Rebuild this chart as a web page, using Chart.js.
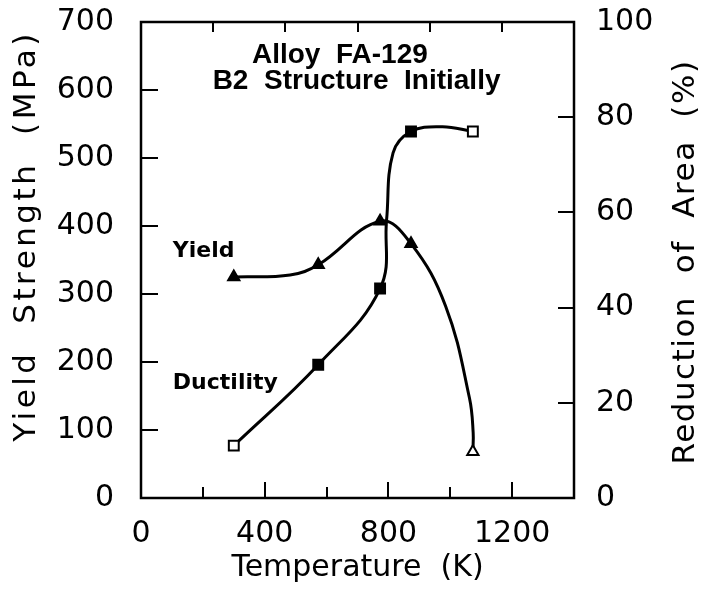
<!DOCTYPE html>
<html>
<head>
<meta charset="utf-8">
<script src="https://cdn.jsdelivr.net/npm/chart.js@4.4.1/dist/chart.umd.min.js"></script>
<style>
  html, body { margin: 0; padding: 0; background: #fff; }
  #wrap { width: 706px; height: 589px; }
</style>
</head>
<body>
<div id="wrap"><canvas id="c" width="706" height="589"></canvas></div>
<script>
// Measured points: test temperature, yield strength, reduction of area
const temperatureK = [300, 573, 773, 873, 1073];
const yieldMPa     = [325, 343, 407, 374, 68];
const reductionPct = [11, 28, 44, 77, 77];

// Hand-faired curves through the measured points
const yieldCurveK   = [300, 482, 573, 773, 873, 985, 1062, 1074, 1073];
const yieldCurveMPa = [325, 328, 343, 407, 374, 282, 147, 96, 68];
const ductCurveK    = [300, 573, 773, 794, 815, 873, 975, 1073];
const ductCurvePct  = [11, 28, 44, 58.4, 72.5, 77, 78, 77];

// Axis ticks
const xTickLabels  = [0, 400, 800, 1200];
const xTickMarks   = [200, 400, 600, 800, 1000, 1200];
const yTickLabels  = [0, 100, 200, 300, 400, 500, 600, 700];
const y2TickLabels = [0, 20, 40, 60, 80, 100];

const FONT = "'DejaVu Sans', sans-serif";
const pts = (xs, ys) => xs.map((x, i) => ({ x: x, y: ys[i] }));

const frameAndText = {
  id: 'frameAndText',
  afterDraw(chart) {
    const { ctx, chartArea: a, scales } = chart;
    const x = scales.x, y = scales.y, y2 = scales.y2;
    ctx.save();
    ctx.strokeStyle = '#000';
    ctx.lineWidth = 2.5;
    ctx.lineCap = 'butt';
    ctx.strokeRect(a.left, a.top, a.right - a.left, a.bottom - a.top);

    ctx.lineWidth = 2;
    ctx.beginPath();
    // bottom ticks point into the plot
    xTickMarks.forEach(v => {
      const px = Math.round(x.getPixelForValue(v));
      const len = v % 400 === 0 ? 16 : 11;
      ctx.moveTo(px, a.bottom); ctx.lineTo(px, a.bottom - len);
    });
    // top ticks divide the frame in six
    for (let i = 1; i < 6; i++) {
      const px = Math.round(a.left + (a.right - a.left) * i / 6);
      ctx.moveTo(px, a.top); ctx.lineTo(px, a.top + 10);
    }
    yTickLabels.slice(1, -1).forEach(v => {
      const py = Math.round(y.getPixelForValue(v));
      ctx.moveTo(a.left, py); ctx.lineTo(a.left + 17, py);
    });
    y2TickLabels.slice(1, -1).forEach(v => {
      const py = Math.round(y2.getPixelForValue(v));
      ctx.moveTo(a.right, py); ctx.lineTo(a.right - 16, py);
    });
    ctx.stroke();

    // vertical axis titles, both reading bottom to top
    ctx.fillStyle = '#000';
    ctx.textAlign = 'center';
    ctx.textBaseline = 'middle';
    ctx.font = '31px ' + FONT;
    ctx.letterSpacing = '3.5px';
    ctx.save();
    ctx.translate(27, 236);
    ctx.rotate(-Math.PI / 2);
    ctx.fillText('Yield  Strength  (MPa)', 0, 0);
    ctx.restore();
    ctx.letterSpacing = '1.5px';
    ctx.save();
    ctx.translate(686, 262);
    ctx.rotate(-Math.PI / 2);
    ctx.fillText('Reduction  of  Area  (%)', 0, 0);
    ctx.restore();
    ctx.letterSpacing = '0px';

    // annotations placed in data coordinates
    ctx.textBaseline = 'alphabetic';
    ctx.font = "bold 28px 'Liberation Sans', sans-serif";
    ctx.textAlign = 'center';
    ctx.fillText('Alloy  FA-129', x.getPixelForValue(643), y.getPixelForValue(640));
    ctx.fillText('B2  Structure  Initially', x.getPixelForValue(697), y.getPixelForValue(601));
    ctx.font = 'bold 22px ' + FONT;
    ctx.textAlign = 'left';
    ctx.fillText('Yield', x.getPixelForValue(103), y.getPixelForValue(354));
    ctx.fillText('Ductility', x.getPixelForValue(103), y.getPixelForValue(160));
    ctx.restore();
  }
};

const tickFont = { family: FONT, size: 30 };
const noEdgePadding = s => { s.paddingTop = 0; s.paddingBottom = 0; s.paddingLeft = 0; s.paddingRight = 0; };

new Chart(document.getElementById('c'), {
  type: 'scatter',
  data: {
    datasets: [
      {
        label: 'Yield strength',
        data: pts(temperatureK, yieldMPa),
        yAxisID: 'y',
        showLine: false,
        pointStyle: 'triangle',
        pointRadius: 6.5,
        pointBorderWidth: 2,
        pointBorderColor: '#000',
        pointBackgroundColor: ['#000', '#000', '#000', '#000', '#fff']
      },
      {
        label: 'Reduction of area',
        data: pts(temperatureK, reductionPct),
        yAxisID: 'y2',
        showLine: false,
        pointStyle: 'rect',
        pointRadius: 7,
        pointBorderWidth: 2,
        pointBorderColor: '#000',
        pointBackgroundColor: ['#fff', '#000', '#000', '#000', '#fff']
      },
      {
        label: 'Yield curve',
        data: pts(yieldCurveK, yieldCurveMPa),
        yAxisID: 'y',
        showLine: true,
        pointRadius: 0,
        borderColor: '#000',
        borderWidth: 3,
        tension: 0.4
      },
      {
        label: 'Ductility curve',
        data: pts(ductCurveK, ductCurvePct),
        yAxisID: 'y2',
        showLine: true,
        pointRadius: 0,
        borderColor: '#000',
        borderWidth: 3,
        tension: 0.4
      }
    ]
  },
  options: {
    responsive: false,
    animation: false,
    devicePixelRatio: 1,
    layout: { padding: { top: 22, left: 0, right: 0, bottom: 0 } },
    plugins: { legend: { display: false }, tooltip: { enabled: false } },
    scales: {
      x: {
        type: 'linear', min: 0, max: 1400,
        afterBuildTicks: s => { s.ticks = xTickLabels.map(v => ({ value: v })); },
        afterFit: s => { s.height = 91; noEdgePadding(s); },
        ticks: { font: tickFont, color: '#000', padding: 10, maxRotation: 0, autoSkip: false,
                 callback: v => String(v) },
        grid: { display: false },
        border: { display: false },
        title: { display: true, text: 'Temperature  (K)', color: '#000',
                 font: { family: FONT, size: 30 }, padding: { top: 0, bottom: 3 } }
      },
      y: {
        type: 'linear', position: 'left', min: 0, max: 700,
        afterBuildTicks: s => { s.ticks = yTickLabels.map(v => ({ value: v })); },
        afterFit: s => { s.width = 141; noEdgePadding(s); },
        ticks: { font: tickFont, color: '#000', padding: 19, autoSkip: false,
                 callback: v => String(v) },
        grid: { display: false },
        border: { display: false }
      },
      y2: {
        type: 'linear', position: 'right', min: 0, max: 100,
        afterBuildTicks: s => { s.ticks = y2TickLabels.map(v => ({ value: v })); },
        afterFit: s => { s.width = 132; noEdgePadding(s); },
        ticks: { font: tickFont, color: '#000', padding: 14, autoSkip: false,
                 callback: v => String(v) },
        grid: { display: false },
        border: { display: false }
      }
    }
  },
  plugins: [frameAndText]
});
</script>
</body>
</html>
